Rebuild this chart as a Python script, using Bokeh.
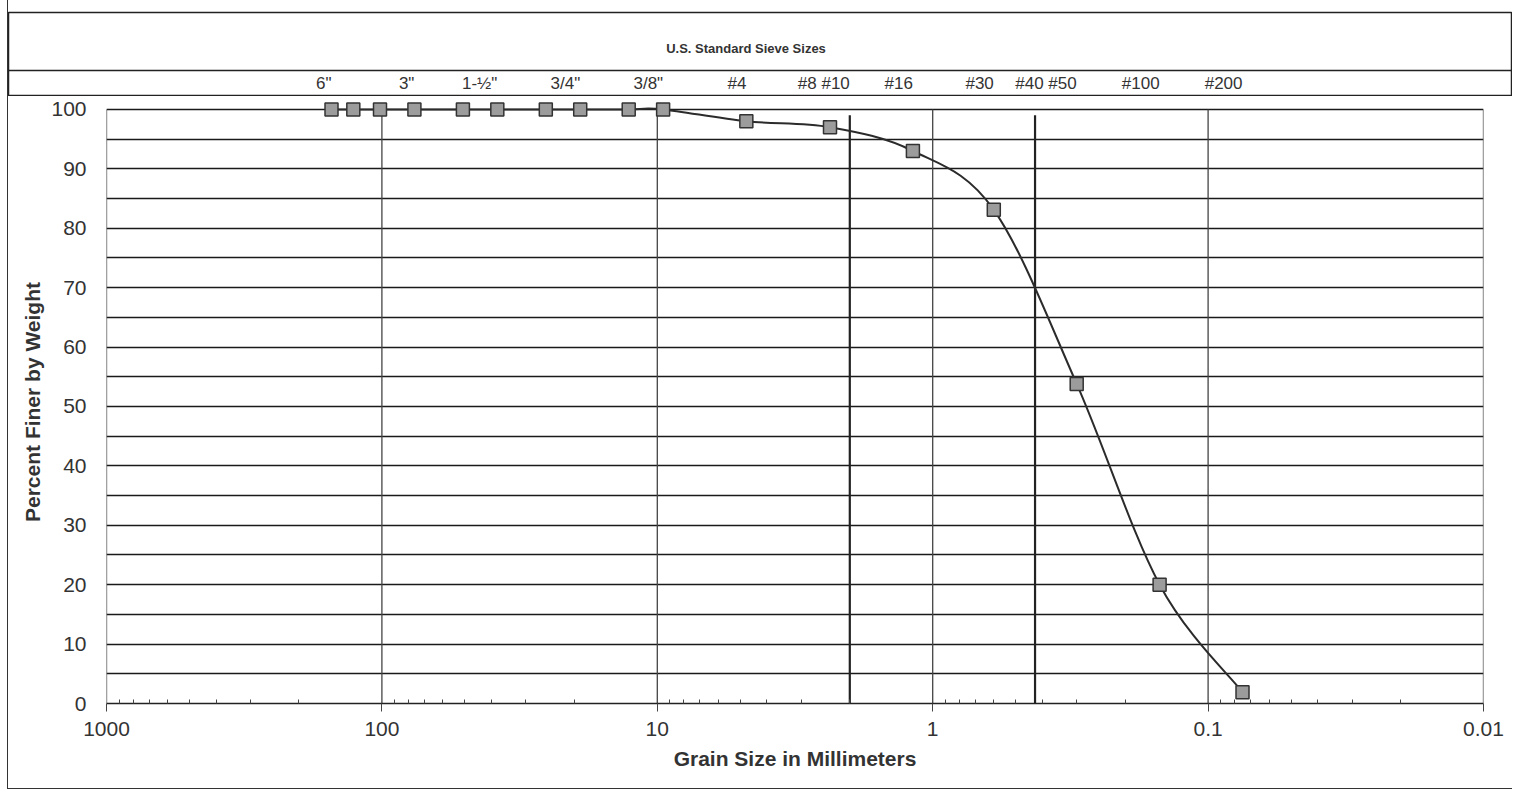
import numpy as np
from bokeh.plotting import figure
from bokeh.models import (Range1d, FixedTicker, CustomJSTickFormatter, Span,
                          ColumnDataSource)
from bokeh.layouts import column
from bokeh.embed import file_html
from bokeh.resources import INLINE
from bokeh.core.properties import value

# ---------------- data ----------------
sieve_names = ['6"', '5"', '4"', '3"', '2"', '1-1/2"', '1"', '3/4"', '1/2"',
               '3/8"', '#4', '#8', '#16', '#30', '#50', '#100', '#200']
grain_mm = [152.4, 127.0, 101.6, 76.2, 50.8, 38.1, 25.4, 19.05, 12.7,
            9.525, 4.75, 2.36, 1.18, 0.6, 0.3, 0.15, 0.075]
percent_finer = [100, 100, 100, 100, 100, 100, 100, 100, 100,
                 100, 98.0, 97.0, 93.0, 83.1, 53.8, 20.0, 1.9]

header_labels = ['6"', '3"', '1-½"', '3/4"', '3/8"', '#4', '#8 #10', '#16',
                 '#30', '#40 #50', '#100', '#200']
header_mm = [152.4, 76.2, 38.1, 19.05, 9.525, 4.75, 2.0, 1.18,
             0.6, 0.3, 0.15, 0.075]

divider_mm = [2.0, 0.425]          # #10 and #40 sieve openings
decade_ticks = [1000, 100, 10, 1, 0.1, 0.01]
y_ticks = list(range(0, 101, 10))
y_grid = list(range(0, 101, 5))

title_text = "U.S. Standard Sieve Sizes"
x_label = "Grain Size in Millimeters"
y_label = "Percent Finer by Weight"

# ---------------- layout constants ----------------
FONT = value("Liberation Sans")
TXT = "#333333"
W = 1504
H_H = 96
M_H = 692
ML, MR, MT, MB = 98, 29, 4, 85
Y_TOP = 101.5
frame_w = W - ML - MR
px_per_dec = frame_w / 5.0

# ---------------- header figure ----------------
h_start = 10 ** (3 + ML / px_per_dec)
h_end = 10 ** (-2 - (MR - 1) / px_per_dec)
hdr = figure(width=W, height=H_H, x_axis_type="log",
             x_range=Range1d(h_start, h_end), y_range=Range1d(0, 1),
             output_backend="svg", toolbar_location=None,
             x_axis_location=None, y_axis_location=None,
             min_border_left=0, min_border_right=1, min_border_top=12,
             min_border_bottom=1)
hdr.frame_align = False
hdr.grid.visible = False
hdr.outline_line_color = "#222222"
hdr.outline_line_width = 1.5
hdr.add_layout(Span(location=0.30, dimension="width",
                    line_color="#222222", line_width=1.5))

hsrc = ColumnDataSource(dict(x=header_mm, y=[0.15] * len(header_mm),
                             t=header_labels))
hdr.text(x="x", y="y", text="t", source=hsrc, text_align="right",
         text_baseline="middle", text_font=FONT, text_font_size="17px",
         text_color=TXT)
tcenter = 10 ** ((np.log10(h_start) + np.log10(h_end)) / 2)
hdr.text(x=[tcenter], y=[0.57], text=[title_text], text_align="center",
         text_baseline="middle", text_font=FONT, text_font_size="13px",
         text_font_style="bold", text_color=TXT, x_offset=-14)

# ---------------- main figure ----------------
p = figure(width=W, height=M_H, x_axis_type="log",
           x_range=Range1d(1000, 0.01), y_range=Range1d(0, Y_TOP),
           output_backend="svg", toolbar_location=None,
           min_border_left=ML, min_border_right=MR, min_border_top=MT,
           min_border_bottom=MB)
p.frame_align = False
p.outline_line_color = None
p.xgrid.visible = False
p.ygrid.ticker = FixedTicker(ticks=y_grid)
p.ygrid.grid_line_color = "#1a1a1a"
p.ygrid.grid_line_width = 1.3

minor = [d * k / 10 for d in decade_ticks[:-1] for k in range(2, 10)]
xa = p.xaxis[0]
xa.ticker = FixedTicker(ticks=decade_ticks, minor_ticks=minor)
xa.formatter = CustomJSTickFormatter(code="return String(Number(tick.toPrecision(6)));")
xa.major_tick_out = 8
xa.major_tick_in = 0
xa.minor_tick_in = 4
xa.minor_tick_out = 0
xa.axis_line_color = "#222222"
xa.axis_line_width = 1.5
xa.major_tick_line_color = "#444444"
xa.minor_tick_line_color = "#444444"
xa.major_label_text_font = "Liberation Sans"
xa.major_label_text_font_size = "21px"
xa.major_label_text_color = TXT
xa.major_label_standoff = 10
xa.axis_label = x_label
xa.axis_label_text_font = "Liberation Sans"
xa.axis_label_text_font_size = "21px"
xa.axis_label_text_font_style = "bold"
xa.axis_label_text_color = TXT
xa.axis_label_standoff = 8

ya = p.yaxis[0]
ya.ticker = FixedTicker(ticks=y_ticks)
ya.major_tick_out = 0
ya.major_tick_in = 0
ya.minor_tick_out = 0
ya.axis_line_color = None
ya.major_label_text_font = "Liberation Sans"
ya.major_label_text_font_size = "21px"
ya.major_label_text_color = TXT
ya.major_label_standoff = 20
ya.axis_label = y_label
ya.axis_label_text_font = "Liberation Sans"
ya.axis_label_text_font_size = "21px"
ya.axis_label_text_font_style = "bold"
ya.axis_label_text_color = TXT
ya.axis_label_standoff = 4

# vertical decade gridlines (0..100 only)
p.segment(x0=decade_ticks, x1=decade_ticks, y0=[0] * len(decade_ticks),
          y1=[100] * len(decade_ticks), line_color="#444444", line_width=1.3)
# thick #10 / #40 divider lines
p.segment(x0=divider_mm, x1=divider_mm, y0=[0] * len(divider_mm),
          y1=[99] * len(divider_mm), line_color="#222222", line_width=2.2)

# smoothed gradation curve (Catmull-Rom -> cubic Bezier in log-x space)
u = np.log10(np.array(grain_mm, dtype=float))
yv = np.array(percent_finer, dtype=float)
n = len(u)
bz = dict(x0=[], y0=[], x1=[], y1=[], cx0=[], cy0=[], cx1=[], cy1=[])
for i in range(n - 1):
    a = max(i - 1, 0)
    d = min(i + 2, n - 1)
    c0u = u[i] + (u[i + 1] - u[a]) / 6
    c0y = yv[i] + (yv[i + 1] - yv[a]) / 6
    c1u = u[i + 1] - (u[d] - u[i]) / 6
    c1y = yv[i + 1] - (yv[d] - yv[i]) / 6
    bz["x0"].append(10 ** u[i]); bz["y0"].append(yv[i])
    bz["x1"].append(10 ** u[i + 1]); bz["y1"].append(yv[i + 1])
    bz["cx0"].append(10 ** c0u); bz["cy0"].append(c0y)
    bz["cx1"].append(10 ** c1u); bz["cy1"].append(c1y)
p.bezier(x0="x0", y0="y0", x1="x1", y1="y1", cx0="cx0", cy0="cy0",
         cx1="cx1", cy1="cy1", source=ColumnDataSource(bz),
         line_color="#2b2b2b", line_width=2)

src = ColumnDataSource(dict(x=grain_mm, y=percent_finer, name=sieve_names))
p.scatter(x="x", y="y", source=src, marker="square", size=13,
          fill_color="#9c9c9c", line_color="#333333", line_width=1.5)

layout = column(hdr, p, spacing=0, margin=(0, 0, 0, 7),
                styles={"border-left": "1.5px solid #333",
                        "border-bottom": "1.5px solid #333"})
open("out.html", "w").write(file_html(layout, INLINE))
